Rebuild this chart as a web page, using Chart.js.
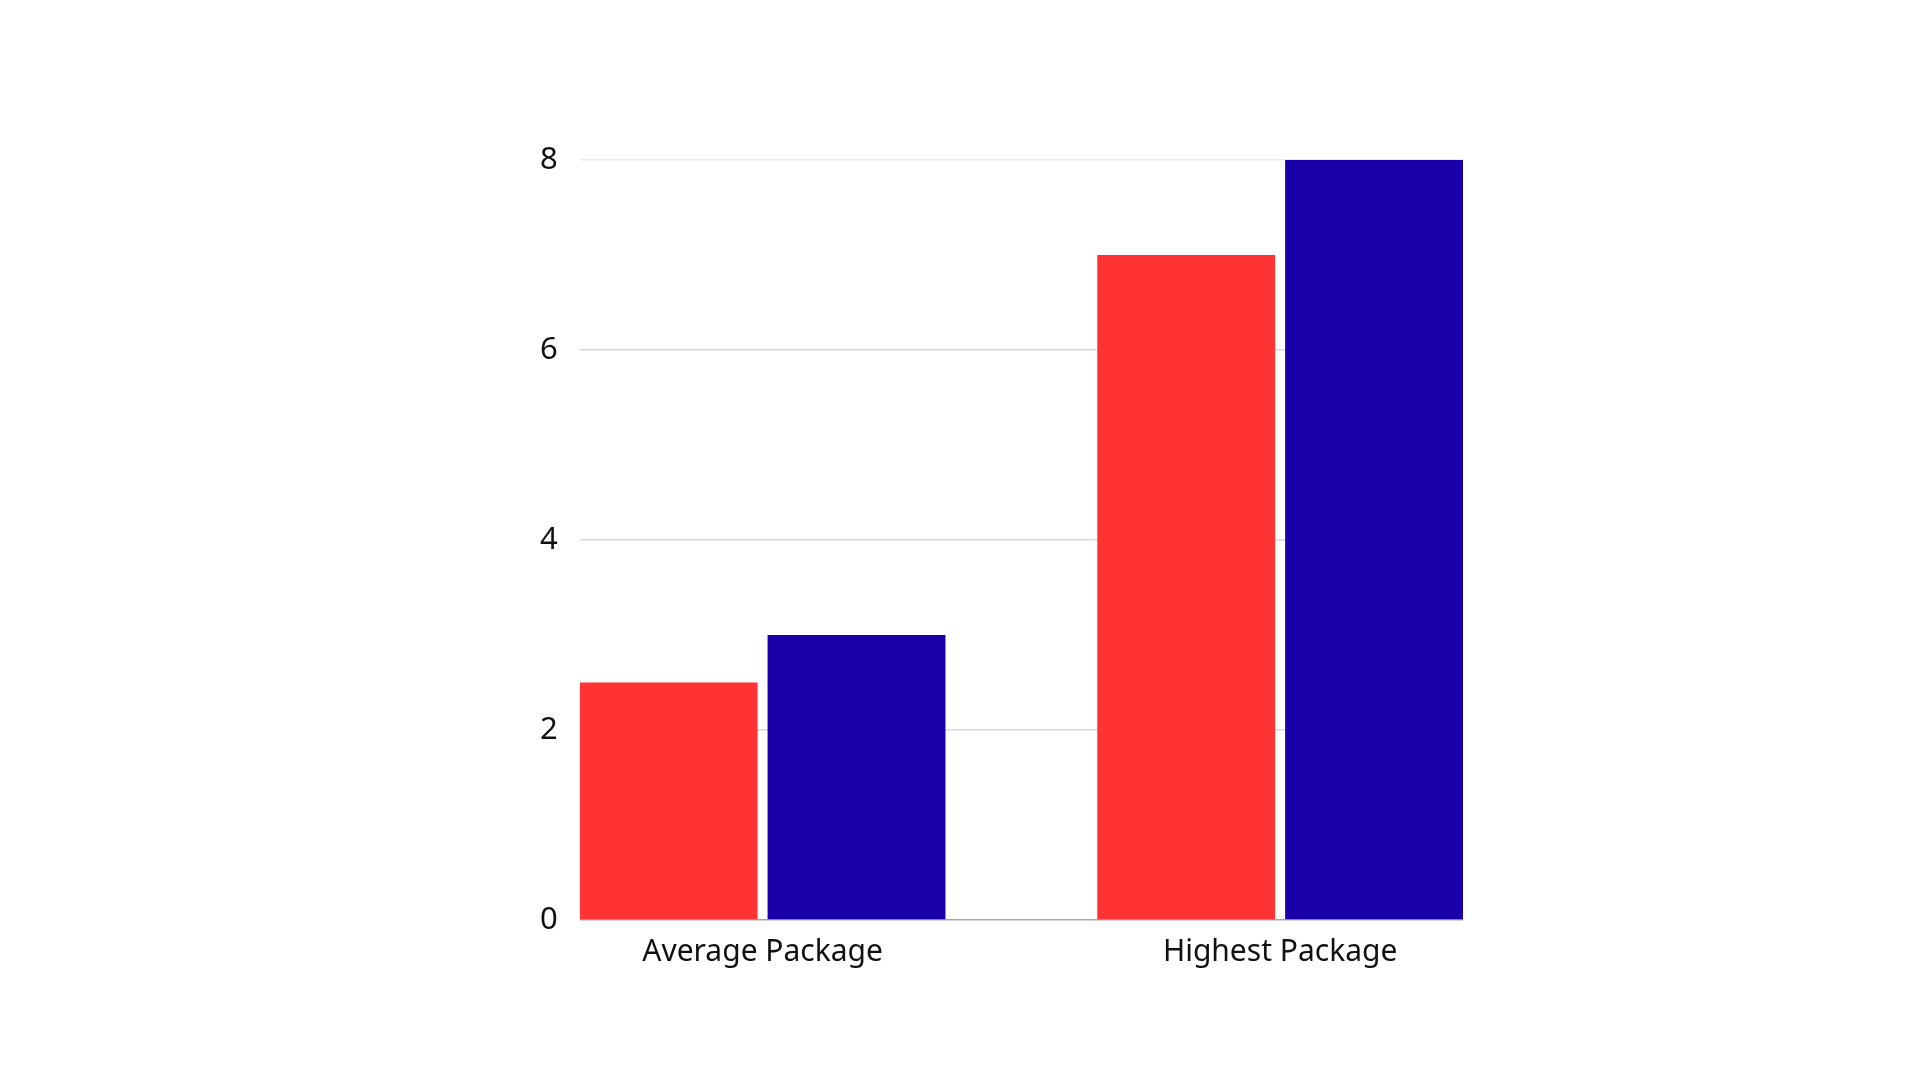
<!DOCTYPE html>
<html>
<head>
<meta charset="utf-8">
<title>Package</title>
<script src="https://cdn.jsdelivr.net/npm/chart.js@4.4.1/dist/chart.umd.min.js"></script>
<style>
    html, body { margin: 0; padding: 0; background: #ffffff; }
    #wrap { width: 1920px; height: 1080px; }
</style>
</head>
<body>
<div id="wrap"><canvas id="grafico"></canvas></div>
<script>
// --- DATA ---
const categorias = ['Average Package', 'Highest Package'];
const serieVermelha = [2.5, 7];
const serieAzul = [3, 8];
const ticksY = [0, 2, 4, 6, 8];

// --- COLOURS ---
const cores = {
    vermelho: '#FF3333',
    azul: '#1A00A8',
    grade: '#d9d9d9',
    gradeTopo: '#ececec',
    eixo: '#a8a8a8'
};

// bars sit on a numeric x axis (category index), so the side margin can be less than half a slot
function pontos(valores) {
    return valores.map((v, i) => ({ x: i, y: v }));
}

new Chart(document.getElementById('grafico'), {
    type: 'bar',
    data: {
        datasets: [
            { data: pontos(serieVermelha), backgroundColor: cores.vermelho },
            { data: pontos(serieAzul), backgroundColor: cores.azul }
        ]
    },
    options: {
        responsive: true,
        maintainAspectRatio: false,
        animation: false,
        categoryPercentage: 0.726,
        barPercentage: 0.947,
        layout: { padding: { left: 518, right: 457, top: 160, bottom: 104 } },
        plugins: {
            legend: { display: false },
            tooltip: { enabled: false }
        },
        scales: {
            x: {
                type: 'linear',
                offset: false,
                min: -0.3533,
                max: 1.3533,
                afterBuildTicks: (scale) => {
                    scale.ticks = categorias.map((c, i) => ({ value: i }));
                },
                ticks: {
                    callback: (value) => categorias[value],
                    color: '#111111',
                    font: { family: 'Noto Sans', size: 30 },
                    padding: 6,
                    maxRotation: 0
                },
                grid: { display: false },
                border: { display: false }
            },
            y: {
                min: 0,
                max: 8,
                afterBuildTicks: (scale) => {
                    scale.ticks = ticksY.map(v => ({ value: v }));
                },
                ticks: {
                    color: '#111111',
                    font: { family: 'Noto Sans', size: 31 },
                    padding: 22
                },
                grid: {
                    color: (ctx) => {
                        if (ctx.tick.value === 0) return cores.eixo;
                        if (ctx.tick.value === 8) return cores.gradeTopo;
                        return cores.grade;
                    },
                    lineWidth: 1.5,
                    drawTicks: false
                },
                border: { display: false }
            }
        }
    }
});
</script>
</body>
</html>
